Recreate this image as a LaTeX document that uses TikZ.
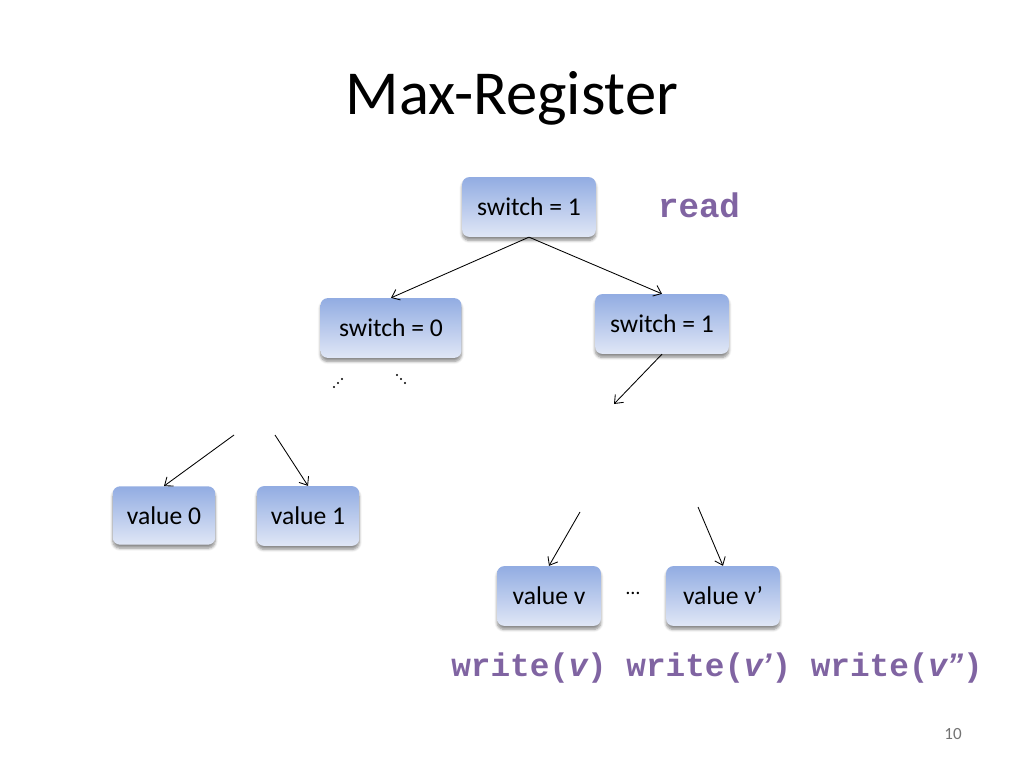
\documentclass[tikz,border=0pt]{standalone}
\usepackage{fontspec}
\setmainfont{Carlito}
\newfontfamily\monofnt{Liberation Mono}
\newfontfamily\sansfnt{Liberation Sans}
\usetikzlibrary{arrows.meta,shadows.blur}
\definecolor{boxtop}{RGB}{146,172,226}
\definecolor{boxbot}{RGB}{224,231,246}
\definecolor{codepurple}{RGB}{128,100,162}
\tikzset{
  vbox/.style={rounded corners=5pt, top color=boxtop, bottom color=boxbot,
    draw=none, inner sep=0pt, font=\fontsize{18}{20}\selectfont,
    blur shadow={shadow xshift=0pt, shadow yshift=-2.5pt, shadow blur steps=6, shadow opacity=45}},
  conn/.style={line width=0.6pt, -{Straight Barb[length=5pt,width=8pt]}},
  dotm/.style={circle, fill=black, inner sep=0pt, minimum size=1.6pt},
}
\begin{document}
\begin{tikzpicture}[x=0.703125pt, y=-0.703125pt]
\useasboundingbox (0,0) rectangle (1024,768);
\node (title) at (512,98) {\fontsize{44}{50}\selectfont Max-Register};
% boxes
\node[vbox, minimum width=94pt, minimum height=42pt] (root) at (529,207) {switch = 1};
\node[vbox, minimum width=99pt, minimum height=42pt] (sl) at (391,328) {switch = 0};
\node[vbox, minimum width=94pt, minimum height=42pt] (sr) at (662,324) {switch = 1};
\node[vbox, minimum width=72pt, minimum height=41pt] (v0) at (164,515.5) {value 0};
\node[vbox, minimum width=72pt, minimum height=42pt] (v1) at (308,516) {value 1};
\node[vbox, minimum width=73pt, minimum height=42pt] (vv) at (549,596) {value v};
\node[vbox, minimum width=80pt, minimum height=42pt] (vp) at (723,596) {value v’};
% labels
\node[text=codepurple] (read) at (699,205) {\monofnt\bfseries\fontsize{24}{26}\selectfont read};
\node[text=codepurple] (write) at (717,668) {\fontsize{23}{26}\selectfont\bfseries\monofnt write(\sansfnt\itshape v\monofnt\upshape) write(\sansfnt\itshape v’\monofnt\upshape) write(\sansfnt\itshape v”\monofnt\upshape)};
\node[text=black!55] (pg) at (953,734) {\fontsize{12}{14}\selectfont 10};
\node (ell) at (633,593) {\fontsize{14}{16}\selectfont …};
% dots
\foreach \i in {0,1,2} {
  \node[dotm] (da\i) at ({334+4*\i},{387-4*\i}) {};
  \node[dotm] (db\i) at ({397+4*\i},{375+4*\i}) {};
}
% free ends
\coordinate (e1) at (614,404);
\coordinate (e2) at (234,435);
\coordinate (e3) at (275,435);
\coordinate (e4) at (580,512);
\coordinate (e5) at (698,507);
% connectors
\draw[conn] (root.south) -- (sl.north);
\draw[conn] (root.south) -- (sr.north);
\draw[conn] (sr.south) -- (e1);
\draw[conn] (e2) -- (v0.north);
\draw[conn] (e3) -- (v1.north);
\draw[conn] (e4) -- (vv.north);
\draw[conn] (e5) -- (vp.north);
\end{tikzpicture}
\end{document}
